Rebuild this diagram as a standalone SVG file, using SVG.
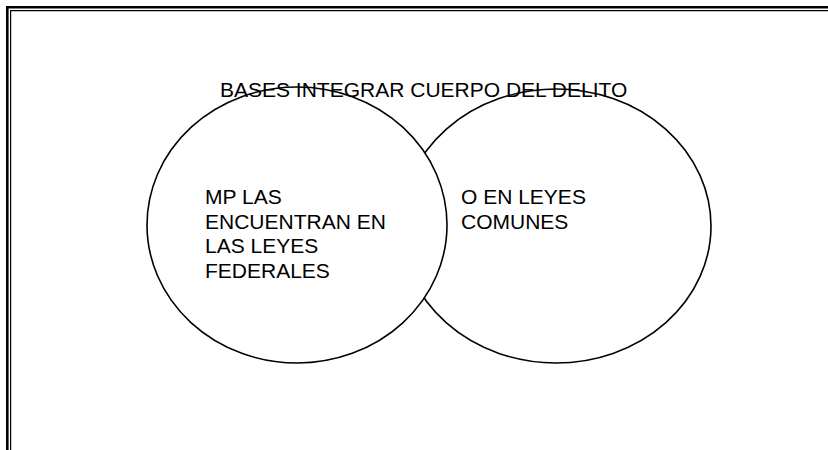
<svg xmlns="http://www.w3.org/2000/svg" width="828" height="450" viewBox="0 0 828 450">
<style>
.frame{fill:none;stroke:#000}
.circ{fill:#fff;stroke:#000;stroke-width:1.6}
text{font-family:"Liberation Sans",Arial,sans-serif;font-size:21px;fill:#000}
</style>
<rect x="0" y="0" width="828" height="450" fill="#fff"/>
<g id="frame">
<path class="frame" stroke-width="2.6" d="M7.3 460 V7.3 H840"/>
<path class="frame" stroke-width="1.2" d="M10.6 460 V10.6 H840"/>
</g>
<g id="connectors"></g>
<g id="node-comunes">
<ellipse class="circ" cx="556" cy="226" rx="155" ry="137"/>
</g>
<g id="node-federales">
<ellipse class="circ" cx="297" cy="225" rx="150" ry="138"/>
</g>
<g id="title">
<text x="220" y="97">BASES INTEGRAR CUERPO DEL DELITO</text>
</g>
<g id="label-federales">
<text x="205" y="204">MP LAS</text>
<text x="205" y="228.7">ENCUENTRAN EN</text>
<text x="205" y="253.4">LAS LEYES</text>
<text x="205" y="278">FEDERALES</text>
</g>
<g id="label-comunes">
<text x="461" y="204">O EN LEYES</text>
<text x="461" y="228.7">COMUNES</text>
</g>
</svg>
